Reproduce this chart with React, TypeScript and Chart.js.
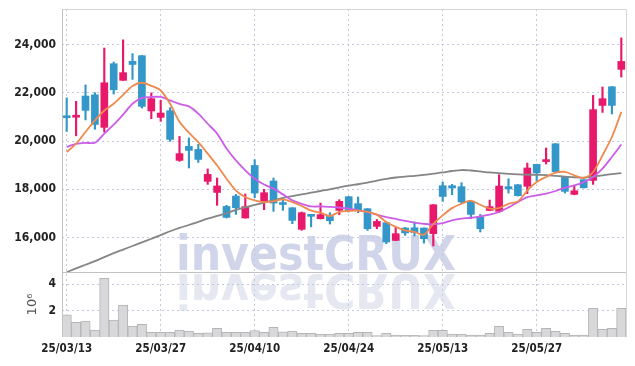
import React, { useEffect, useRef } from 'react';
import { Chart, registerables } from 'chart.js';

Chart.register(...registerables);

const dates = [
  '25/03/13', '25/03/14', '25/03/17', '25/03/18', '25/03/19', '25/03/20', '25/03/21', '25/03/24', '25/03/25', '25/03/26',
  '25/03/27', '25/03/28', '25/03/31', '25/04/01', '25/04/02', '25/04/03', '25/04/04', '25/04/07', '25/04/08', '25/04/09',
  '25/04/10', '25/04/11', '25/04/14', '25/04/15', '25/04/16', '25/04/17', '25/04/18', '25/04/21', '25/04/22', '25/04/23',
  '25/04/24', '25/04/25', '25/04/28', '25/04/29', '25/04/30', '25/05/02', '25/05/07', '25/05/08', '25/05/09', '25/05/12',
  '25/05/13', '25/05/14', '25/05/15', '25/05/16', '25/05/19', '25/05/20', '25/05/21', '25/05/22', '25/05/23', '25/05/26',
  '25/05/27', '25/05/28', '25/05/29', '25/05/30', '25/06/02', '25/06/04', '25/06/05', '25/06/09', '25/06/10', '25/06/11',
];

const opens = [
  21000, 20990, 21870, 21920, 20570, 23210, 22520, 23310, 23545, 21250,
  20985, 21260, 19200, 19780, 19655, 18330, 17870, 17290, 17720, 16810,
  18990, 17500, 18345, 17400, 17235, 16340, 16900, 16780, 16875, 17125,
  17695, 17405, 17195, 16460, 16615, 15880, 16395, 16405, 16395, 16160,
  18150, 18150, 18110, 17500, 16850, 17125, 17085, 18110, 18190, 18125,
  19035, 19150, 19890, 18495, 17790, 18400, 18370, 21480, 22255, 22975,
];
const highs = [
  21790, 21650, 22330, 22010, 23860, 23280, 24200, 23630, 23550, 22000,
  21690, 21390, 20195, 20130, 19865, 18845, 18470, 17335, 17790, 17805,
  19230, 18000, 18470, 17610, 17240, 17060, 16920, 17430, 17030, 17570,
  17700, 17680, 17200, 16750, 16620, 16435, 16420, 16645, 16400, 17370,
  18305, 18205, 18275, 17520, 16960, 17555, 18605, 18440, 18200, 19090,
  19040, 19715, 19895, 18500, 18160, 18400, 21895, 22245, 22260, 24280,
];
const lows = [
  20400, 20220, 20880, 20490, 20380, 21950, 22520, 22560, 21370, 20930,
  20820, 19990, 19160, 18885, 19115, 18205, 17335, 16810, 16960, 16800,
  17650, 17155, 17085, 17125, 16575, 16300, 16440, 16770, 16560, 16950,
  17060, 17030, 16295, 16365, 15745, 15870, 16090, 16065, 15770, 15650,
  17500, 17775, 17405, 16780, 16230, 17110, 17030, 17845, 17720, 17820,
  18345, 19050, 18725, 17845, 17770, 18050, 18205, 21190, 21125, 22660,
];
const closes = [
  20970, 21070, 21275, 20690, 22420, 22130, 22840, 23180, 21440, 21760,
  21165, 20070, 19480, 19615, 19240, 18620, 18140, 16835, 17235, 17280,
  17845, 17860, 17430, 17370, 16710, 17030, 16880, 16950, 16700, 17500,
  17125, 17110, 16365, 16670, 15815, 16160, 16190, 16200, 15950, 17360,
  17705, 18055, 17475, 16960, 16365, 17280, 18135, 18015, 17735, 18885,
  18680, 19230, 18730, 17915, 17940, 18065, 21305, 21760, 21480, 23305,
];
// volume in millions of shares
const volumes = [
  1.67, 1.11, 1.21, 0.53, 4.45, 1.29, 2.42, 0.83, 0.96, 0.35,
  0.35, 0.35, 0.53, 0.45, 0.28, 0.32, 0.66, 0.35, 0.35, 0.35,
  0.48, 0.35, 0.73, 0.40, 0.45, 0.28, 0.28, 0.23, 0.23, 0.28,
  0.28, 0.35, 0.35, 0.10, 0.28, 0.15, 0.13, 0.13, 0.10, 0.50,
  0.50, 0.23, 0.23, 0.15, 0.15, 0.28, 0.81, 0.35, 0.23, 0.58,
  0.35, 0.66, 0.43, 0.28, 0.15, 0.15, 2.17, 0.58, 0.66, 2.17,
];
const ma5 = [
  19550, 19890, 20380, 20860, 21270, 21550, 21920, 22290, 22420, 22290,
  22100, 21550, 20800, 20350, 19960, 19480, 18990, 18440, 17950, 17680,
  17540, 17470, 17500, 17580, 17470, 17310, 17120, 17030, 16890, 17060,
  17100, 17120, 17060, 16950, 16640, 16440, 16300, 16230, 16120, 16570,
  16920, 17220, 17400, 17530, 17360, 17200, 17220, 17400, 17500, 17950,
  18300, 18510, 18690, 18720, 18580, 18470, 18720, 19410, 20170, 21210,
];
const ma10 = [
  19760, 19890, 19930, 19930, 20310, 20680, 21100, 21550, 21790, 21830,
  21830, 21690, 21540, 21440, 21140, 20720, 20310, 19690, 19200, 18790,
  18440, 18200, 18030, 17790, 17540, 17400, 17290, 17290, 17270, 17240,
  17200, 17130, 17060, 16950, 16850, 16770, 16690, 16620, 16570, 16550,
  16600, 16710, 16780, 16820, 16880, 16950, 17060, 17250, 17470, 17680,
  17750, 17820, 17930, 18070, 18160, 18300, 18510, 18860, 19340, 19860,
];
const maLong = [
  14560, 14720, 14870, 15020, 15190, 15350, 15500, 15650, 15800, 15950,
  16100, 16260, 16400, 16520, 16650, 16780, 16900, 17010, 17150, 17250,
  17350, 17450, 17540, 17640, 17720, 17790, 17860, 17930, 18000, 18080,
  18150, 18210, 18280, 18360, 18430, 18490, 18530, 18560, 18600, 18650,
  18700, 18760, 18800, 18780, 18740, 18700, 18670, 18640, 18620, 18610,
  18600, 18590, 18560, 18530, 18500, 18480, 18520, 18580, 18630, 18670,
];

const priceTicks = [16000, 18000, 20000, 22000, 24000];
const volumeTicks = [2, 4];
const xTickLabels = ['25/03/13', '25/03/27', '25/04/10', '25/04/24', '25/05/13', '25/05/27'];
const watermarkText = 'investCRUX';
const volumeUnit = '10⁶';

const UP = '#e8196a';
const DOWN = '#3397c9';
const GRID = '#c4c8de';
const AXIS_FONT = '"DejaVu Sans Condensed", "DejaVu Sans", sans-serif';

const framePlugin = {
  id: 'frame',
  beforeDraw(chart: any) {
    const ctx = chart.ctx;
    const ys = chart.scales.y;
    const left = chart.chartArea.left + 114;
    const base = ys.bottom - 2;
    ctx.save();
    ctx.font = 'bold 48px "DejaVu Sans", sans-serif';
    ctx.textBaseline = 'alphabetic';
    ctx.textAlign = 'left';
    ctx.fillStyle = '#d0d5e9';
    ctx.fillText(watermarkText, left, base, 280);
    ctx.translate(0, 2 * ys.bottom);
    ctx.scale(1, -1);
    ctx.fillStyle = '#e6e8f1';
    ctx.fillText(watermarkText, left, base, 280);
    ctx.restore();
  },
  beforeDatasetDraw(chart: any, args: any) {
    const ctx = chart.ctx;
    const ys = args.meta.yScale;
    ctx.save();
    ctx.beginPath();
    ctx.rect(chart.chartArea.left, ys.top, chart.chartArea.right - chart.chartArea.left, ys.bottom - ys.top);
    ctx.clip();
  },
  afterDatasetDraw(chart: any) {
    chart.ctx.restore();
  },
  afterDraw(chart: any) {
    const ctx = chart.ctx;
    const { left, right, top, bottom } = chart.chartArea;
    const ys = chart.scales.y;
    ctx.save();
    ctx.lineWidth = 1;
    ctx.strokeStyle = '#d6d6d6';
    ctx.beginPath();
    ctx.moveTo(left, top + 0.5);
    ctx.lineTo(right + 0.5, top + 0.5);
    ctx.lineTo(right + 0.5, bottom);
    ctx.stroke();
    ctx.strokeStyle = '#c2c2c2';
    ctx.beginPath();
    ctx.moveTo(left + 0.5, top);
    ctx.lineTo(left + 0.5, bottom);
    ctx.moveTo(left, Math.round(ys.bottom) + 0.5);
    ctx.lineTo(right, Math.round(ys.bottom) + 0.5);
    ctx.stroke();
    ctx.restore();
  },
};

const fitVertical = (s: any) => {
  s.width = 54;
  s.paddingTop = 0;
  s.paddingBottom = 0;
};

export default function App() {
  const ref = useRef<HTMLCanvasElement | null>(null);

  useEffect(() => {
    if (!ref.current) return;
    const up = dates.map((_, i) => closes[i] >= opens[i]);
    const colors = up.map((u) => (u ? UP : DOWN));
    const chart = new Chart(ref.current, {
      type: 'bar',
      data: {
        labels: dates,
        datasets: [
          {
            type: 'line',
            label: 'MA5',
            data: ma5,
            yAxisID: 'y',
            borderColor: '#ef8a4e',
            borderWidth: 1.8,
            pointRadius: 0,
            tension: 0.3,
            order: 0,
          },
          {
            type: 'line',
            label: 'MA10',
            data: ma10,
            yAxisID: 'y',
            borderColor: '#cc5de8',
            borderWidth: 1.8,
            pointRadius: 0,
            tension: 0.3,
            order: 0,
          },
          {
            type: 'line',
            label: 'MA long',
            data: maLong,
            yAxisID: 'y',
            borderColor: '#858585',
            borderWidth: 1.8,
            pointRadius: 0,
            tension: 0.3,
            order: 0,
          },
          {
            type: 'bar',
            label: 'wick',
            data: dates.map((_, i) => [lows[i], highs[i]]),
            yAxisID: 'y',
            backgroundColor: colors,
            barThickness: 1.5,
            grouped: false,
            order: 2,
          },
          {
            type: 'bar',
            label: 'body',
            data: dates.map((_, i) => [opens[i], closes[i]]),
            yAxisID: 'y',
            backgroundColor: colors,
            barThickness: 7,
            minBarLength: 2,
            grouped: false,
            order: 1,
          },
          {
            type: 'bar',
            label: 'volume',
            data: volumes,
            yAxisID: 'yv',
            backgroundColor: '#d8d8da',
            borderColor: '#b5b5b5',
            borderWidth: 1,
            barPercentage: 1,
            categoryPercentage: 1,
            grouped: false,
            order: 3,
          },
        ],
      } as any,
      options: {
        responsive: false,
        animation: false,
        layout: { padding: { top: 1, right: 1, left: 0, bottom: 0 } },
        plugins: { legend: { display: false }, tooltip: { enabled: false } },
        scales: {
          x: {
            type: 'category',
            offset: true,
            grid: { offset: false, color: GRID, drawTicks: false, lineWidth: 1 },
            border: { display: false, dash: [2, 3] },
            ticks: {
              autoSkip: false,
              maxRotation: 0,
              padding: 5,
              color: '#222',
              font: { family: AXIS_FONT, size: 11.5, weight: 'bold' },
            },
            afterBuildTicks: (s: any) => {
              s.ticks = s.ticks.filter((t: any) => xTickLabels.includes(dates[t.value]));
            },
            afterFit: (s: any) => {
              s.height = 21;
              s.paddingLeft = 0;
              s.paddingRight = 0;
            },
          },
          y: {
            type: 'linear',
            position: 'left',
            stack: 'panels',
            stackWeight: 263,
            weight: 1,
            min: 14570,
            max: 25480,
            grid: { color: GRID, drawTicks: false },
            border: { display: false, dash: [2, 3] },
            ticks: {
              padding: 6,
              color: '#222',
              font: { family: AXIS_FONT, size: 12, weight: 'bold' },
              callback: (v: any) => Number(v).toLocaleString('en-US'),
            },
            afterBuildTicks: (s: any) => {
              s.ticks = priceTicks.map((v) => ({ value: v }));
            },
            afterFit: fitVertical,
          },
          yv: {
            type: 'linear',
            position: 'left',
            stack: 'panels',
            stackWeight: 65,
            weight: 0,
            min: 0,
            max: 4.92,
            grid: { color: GRID, drawTicks: false },
            border: { display: false, dash: [2, 3] },
            title: {
              display: true,
              text: volumeUnit,
              color: '#555',
              font: { family: '"DejaVu Sans", sans-serif', size: 13 },
              padding: { top: 17, bottom: 0 },
            },
            ticks: {
              padding: 6,
              color: '#222',
              font: { family: AXIS_FONT, size: 12, weight: 'bold' },
              callback: (v: any) => String(v),
            },
            afterBuildTicks: (s: any) => {
              s.ticks = volumeTicks.map((v) => ({ value: v }));
            },
            afterFit: fitVertical,
          },
        },
      } as any,
      plugins: [framePlugin],
    });
    return () => chart.destroy();
  }, []);

  return (
    <div style={{ width: 619, height: 350 }}>
      <canvas ref={ref} width={619} height={350} style={{ display: 'block' }} />
    </div>
  );
}
